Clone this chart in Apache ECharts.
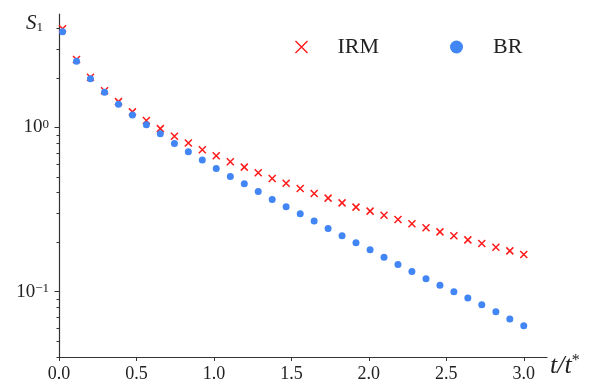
<!doctype html>
<html>
<head>
    <meta charset="utf-8">
    <title>S1 decay</title>
    <script src="https://cdn.jsdelivr.net/npm/echarts@6/dist/echarts.min.js"></script>
</head>
<body style="margin:0;padding:0;background:#fff">
    <div id="main" style="width:592px;height:383px"></div>
    <script>
        // t/t* sample points
        var xVals = [0.023, 0.113, 0.203, 0.294, 0.384, 0.474, 0.564, 0.654, 0.745, 0.835,
            0.925, 1.015, 1.106, 1.196, 1.286, 1.376, 1.466, 1.557, 1.647, 1.737,
            1.827, 1.917, 2.008, 2.098, 2.188, 2.278, 2.369, 2.459, 2.549, 2.639,
            2.729, 2.820, 2.910, 3.000];
        var irmVals = [3.98, 2.59, 2.02, 1.67, 1.435, 1.243, 1.10, 0.983, 0.884, 0.803,
            0.731, 0.672, 0.618, 0.573, 0.529, 0.489, 0.457, 0.425, 0.396, 0.371,
            0.347, 0.327, 0.309, 0.292, 0.275, 0.259, 0.2446, 0.2312, 0.2186, 0.2066,
            0.1962, 0.1865, 0.1771, 0.1681];
        var brVals = [3.82, 2.53, 1.976, 1.635, 1.385, 1.19, 1.039, 0.913, 0.799, 0.711,
            0.633, 0.562, 0.503, 0.4536, 0.4073, 0.364, 0.3284, 0.2977, 0.2687, 0.2422,
            0.2186, 0.1981, 0.1796, 0.1621, 0.1461, 0.1324, 0.12, 0.1094, 0.1, 0.0915,
            0.0833, 0.0755, 0.0682, 0.062];
        var xTicks = [0, 0.5, 1, 1.5, 2, 2.5, 3];
        var yMajor = [0.1, 1];
        var yMinor = [0.04, 0.05, 0.06, 0.07, 0.08, 0.09, 0.2, 0.3, 0.4, 0.5, 0.6, 0.7, 0.8, 0.9, 2, 3, 4];

        var serif = '"Liberation Serif", "DejaVu Serif", serif';
        var red = '#ff1a1a';
        var blue = '#4285f4';
        var cross = 'path://M0,0L10,10M10,0L0,10';

        var zip = function (xs, ys) {
            return xs.map(function (x, i) { return [x, ys[i]]; });
        };

        var chart = echarts.init(document.getElementById('main'));
        var logAxisBase = {
            type: 'log',
            min: 0.04,
            max: 4.9,
            position: 'left',
            splitLine: { show: false }
        };
        chart.setOption({
            animation: false,
            grid: { left: 59, right: 45, top: 14, bottom: 26 },
            legend: [{
                left: 288, top: 31,
                data: [{ name: 'IRM', icon: cross }],
                itemWidth: 12, itemHeight: 12,
                itemStyle: { color: 'none', borderColor: red, borderWidth: 1.4, opacity: 1 },
                textStyle: { fontFamily: serif, fontSize: 22, color: '#222', padding: [0, 0, 0, 25] }
            }, {
                left: 445, top: 31,
                data: [{ name: 'BR', icon: 'circle' }],
                itemWidth: 13, itemHeight: 13,
                itemStyle: { color: blue, opacity: 1 },
                textStyle: { fontFamily: serif, fontSize: 22, color: '#222', padding: [0, 0, 0, 25] }
            }],
            xAxis: {
                type: 'value',
                min: 0,
                max: 3.15,
                splitLine: { show: false },
                axisLine: { lineStyle: { color: '#333', width: 1.2 } },
                axisTick: { customValues: xTicks, length: 4, lineStyle: { color: '#333' } },
                axisLabel: {
                    customValues: xTicks,
                    margin: 8,
                    fontFamily: serif, fontSize: 18, color: '#222',
                    formatter: function (v) { return v.toFixed(1); }
                },
                name: '{i|t/t}{s|*}',
                nameLocation: 'end',
                nameGap: 3,
                nameTextStyle: {
                    align: 'left', verticalAlign: 'middle', padding: [18, 0, 0, 0],
                    rich: {
                        i: { fontFamily: serif, fontStyle: 'italic', fontSize: 26, color: '#222' },
                        s: { fontFamily: serif, fontSize: 16, color: '#222', verticalAlign: 'top' }
                    }
                }
            },
            yAxis: [Object.assign({}, logAxisBase, {
                axisLine: { show: true, lineStyle: { color: '#333', width: 1.2 } },
                axisTick: { customValues: yMajor, length: 4.5, lineStyle: { color: '#333' } },
                axisLabel: {
                    customValues: yMajor,
                    margin: 10,
                    formatter: function (v) {
                        var e = Math.round(Math.log10(v));
                        return '{b|10}{s|' + (e < 0 ? '\u2212' + (-e) : e) + '}';
                    },
                    rich: {
                        b: { fontFamily: serif, fontSize: 19, color: '#222' },
                        s: { fontFamily: serif, fontSize: 13, color: '#222', verticalAlign: 'top' }
                    }
                },
                name: '{i|S}{s|1}',
                nameLocation: 'end',
                nameGap: 1,
                nameTextStyle: {
                    align: 'right', verticalAlign: 'top', padding: [0, 16, 0, 0],
                    rich: {
                        i: { fontFamily: serif, fontStyle: 'italic', fontSize: 21, color: '#222' },
                        s: { fontFamily: serif, fontSize: 13, color: '#222', verticalAlign: 'bottom' }
                    }
                }
            }), Object.assign({}, logAxisBase, {
                // minor ticks only; the line itself is invisible
                axisLine: { show: true, lineStyle: { color: 'rgba(0,0,0,0)' } },
                axisTick: { show: true, customValues: yMinor, length: 2.5, lineStyle: { color: '#333', width: 1 } },
                axisLabel: { show: false }
            })],
            series: [{
                name: 'IRM',
                type: 'scatter',
                symbol: cross,
                symbolSize: 7,
                itemStyle: { color: 'none', borderColor: red, borderWidth: 1.5, opacity: 1 },
                data: zip(xVals, irmVals)
            }, {
                name: 'BR',
                type: 'scatter',
                symbol: 'circle',
                symbolSize: 7,
                itemStyle: { color: blue, opacity: 1 },
                data: zip(xVals, brVals)
            }]
        });
    </script>
</body>
</html>
